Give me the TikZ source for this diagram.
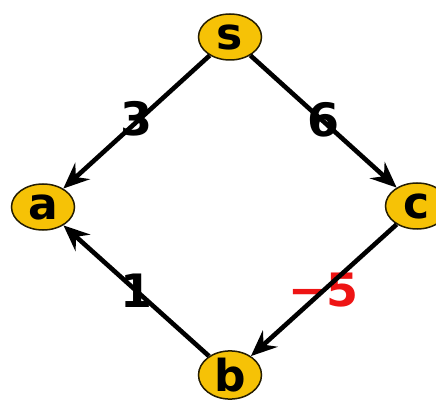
\documentclass[tikz,border=0pt]{standalone}
\usepackage{fontspec}
\setmainfont{DejaVu Sans}
\usetikzlibrary{shapes.geometric,arrows.meta,calc}
\definecolor{vgold}{RGB}{246,194,6}
\definecolor{vred}{RGB}{238,20,20}
\tikzset{
  vnode/.style={ellipse, draw=black!85!vgold, line width=1.5pt, fill=vgold,
    minimum width=63pt, minimum height=46pt, inner sep=0pt,
    font=\fontsize{44}{44}\selectfont\bfseries},
  edge/.style={line width=4.6pt, -{Stealth[length=26pt,width=22pt,inset=9pt]}},
  wlabel/.style={inner sep=0pt, font=\fontsize{46}{46}\selectfont\bfseries},
}
\begin{document}
\begin{tikzpicture}[x=1pt,y=-1pt]
\clip (0,0) rectangle (436,403);
\node[vnode] (s) at (230,37) {s};
\node[vnode] (a) at (43,207) {a};
\node[vnode] (c) at (417,206) {c};
\node[vnode, minimum height=44pt] (b) at (230,375) {b};
\node[wlabel] (l3) at ($(s)!0.5!(a)+(0,-3)$) {3};
\node[wlabel] (l6) at ($(s)!0.5!(c)+(0,-2)$) {6};
\node[wlabel] (l1) at ($(b)!0.5!(a)$) {1};
\node[wlabel, text=vred] (l5) at ($(c)!0.5!(b)$) {−5};
\draw[edge] (s) -- (a);
\draw[edge] (s) -- (c);
\draw[edge] (c) -- (b);
\draw[edge] (b) -- (a);
\end{tikzpicture}
\end{document}
